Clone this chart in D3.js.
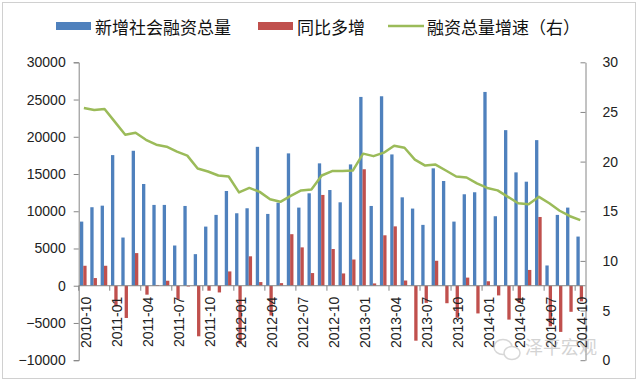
<!DOCTYPE html>
<html><head><meta charset="utf-8">
<script src="https://cdn.jsdelivr.net/npm/d3@7/dist/d3.min.js"></script>
<style>
html,body{margin:0;padding:0;background:#fff;}
svg{display:block;}
</style></head>
<body><svg id="c" width="640" height="383"></svg>
<script>
const months = ["2010-10","2010-11","2010-12","2011-01","2011-02","2011-03","2011-04","2011-05","2011-06","2011-07","2011-08","2011-09",
"2011-10","2011-11","2011-12","2012-01","2012-02","2012-03","2012-04","2012-05","2012-06","2012-07","2012-08","2012-09",
"2012-10","2012-11","2012-12","2013-01","2013-02","2013-03","2013-04","2013-05","2013-06","2013-07","2013-08","2013-09",
"2013-10","2013-11","2013-12","2014-01","2014-02","2014-03","2014-04","2014-05","2014-06","2014-07","2014-08","2014-09","2014-10"];
const newTSF = [8610,10540,10750,17540,6470,18120,13660,10850,10850,5400,10710,4240,
7940,9510,12720,9730,10400,18650,9640,11150,17770,10490,12410,16430,
12850,11200,16290,25350,10710,25440,17630,11870,10360,8170,15760,14060,
8610,12280,12550,26020,9330,20890,15220,13970,19550,2720,9510,10490,6600];
const yoyMore = [2680,1030,2680,-2770,-4330,4380,-1200,100,670,-1870,-100,-6790,
-670,-900,1920,-7800,3950,490,-4000,350,6920,5150,1700,12190,
4930,1650,3520,15640,310,6770,7970,700,-7380,-2300,3350,-2350,
-4300,1090,-3720,600,-1300,-4550,-2300,2120,9230,-5450,-6200,-3500,-2100];
const growth = [25.4,25.2,25.3,24.0,22.7,22.9,22.2,21.7,21.5,21.0,20.6,19.3,
19.0,18.6,18.5,16.9,17.35,16.95,16.2,15.95,16.55,17.1,17.2,18.6,
19.05,19.05,19.1,20.8,20.55,20.9,21.6,21.4,20.2,19.6,19.7,19.1,
18.5,18.4,17.8,17.35,17.1,16.45,15.8,15.7,16.45,15.8,15.05,14.5,14.1];
const leftTicks = [-10000,-5000,0,5000,10000,15000,20000,25000,30000];
const rightTicks = [0,5,10,15,20,25,30];
const seriesNames = ["新增社会融资总量","同比多增","融资总量增速（右）"];
const colors = ["#4F81BD","#C0504D","#9BBB59"];

const svg = d3.select("#c");
const L = 78.7, R = 585.5, T = 62.3, B = 360.2;
const font = "'Liberation Sans', Arial, sans-serif";
const cjk = "'Noto Sans CJK SC', sans-serif";

svg.append("rect").attr("x",2.5).attr("y",2.5).attr("width",633).attr("height",376)
  .attr("fill","#fff").attr("stroke","#d0d0d0").attr("stroke-width",1);

const x = d3.scaleBand().domain(months).range([L,R]).paddingInner(0).paddingOuter(0);
const x1 = d3.scaleBand().domain(["a","b"]).range([0,x.bandwidth()]).paddingInner(0).paddingOuter(0.56);
const yL = d3.scaleLinear().domain([-10000,30000]).range([B,T]);
const yR = d3.scaleLinear().domain([0,30]).range([B,T]);

// bars
const g = svg.append("g");
g.selectAll("rect.b").data(newTSF).join("rect").attr("class","b")
  .attr("x",(d,i)=>x(months[i])+x1("a")-0.6).attr("width",x1.bandwidth())
  .attr("y",d=>Math.min(yL(d),yL(0))).attr("height",d=>Math.abs(yL(d)-yL(0)))
  .attr("fill",colors[0]);
g.selectAll("rect.r").data(yoyMore).join("rect").attr("class","r")
  .attr("x",(d,i)=>x(months[i])+x1("b")-0.6).attr("width",x1.bandwidth())
  .attr("y",d=>Math.min(yL(d),yL(0))).attr("height",d=>Math.abs(yL(d)-yL(0)))
  .attr("fill",colors[1]);

// left axis
const axL = d3.axisLeft(yL).tickValues(leftTicks).tickSize(5).tickPadding(8).tickFormat(d3.format("d"));
const gL = svg.append("g").attr("transform",`translate(${L},0)`).call(axL);
gL.select(".domain").attr("stroke","#868686");
gL.selectAll(".tick line").attr("stroke","#868686");
gL.selectAll("text").attr("font-family",font).attr("font-size",14).attr("fill","#222");

// right axis (ticks inward)
const axR = d3.axisRight(yR).tickValues(rightTicks).tickSize(0).tickPadding(17);
const gR = svg.append("g").attr("transform",`translate(${R},0)`).call(axR);
gR.select(".domain").attr("stroke","#868686");
gR.selectAll(".tick").append("line").attr("x1",-5).attr("x2",0).attr("stroke","#868686");
gR.selectAll("text").attr("font-family",font).attr("font-size",14).attr("fill","#222");

// category axis at 0
const y0 = yL(0);
svg.append("line").attr("x1",L).attr("x2",R).attr("y1",y0).attr("y2",y0).attr("stroke","#868686");
const tickIdx = months.map((m,i)=>i).filter(i=>i%3===0);
svg.selectAll("line.ct").data(tickIdx).join("line").attr("class","ct")
  .attr("x1",i=>x(months[i])).attr("x2",i=>x(months[i]))
  .attr("y1",y0).attr("y2",y0+5).attr("stroke","#868686");
svg.selectAll("text.cl").data(tickIdx).join("text").attr("class","cl")
  .attr("transform",i=>`translate(${x(months[i])+x.bandwidth()/2+2},${y0+11}) rotate(-90)`)
  .attr("text-anchor","end").attr("dominant-baseline","central")
  .attr("font-family",font).attr("font-size",14).attr("fill","#222")
  .text(i=>months[i]);

// line
const line = d3.line().x((d,i)=>x(months[i])+x.bandwidth()/2).y(d=>yR(d));
svg.append("path").datum(growth).attr("d",line).attr("fill","none")
  .attr("stroke",colors[2]).attr("stroke-width",2.5).attr("stroke-linejoin","round");

// legend
const leg = [{x:56,t:seriesNames[0],c:colors[0],type:"rect"},
             {x:258,t:seriesNames[1],c:colors[1],type:"rect"},
             {x:388,t:seriesNames[2],c:colors[2],type:"line"}];
const ly = 26;
leg.forEach(l=>{
  if(l.type==="rect") svg.append("rect").attr("x",l.x).attr("y",ly-4).attr("width",35).attr("height",8).attr("fill",l.c);
  else svg.append("line").attr("x1",l.x).attr("x2",l.x+36).attr("y1",ly).attr("y2",ly).attr("stroke",l.c).attr("stroke-width",2.5);
  svg.append("text").attr("x",l.x+39).attr("y",ly).attr("dominant-baseline","central")
    .attr("font-family",cjk).attr("font-size",17).attr("fill","#111").text(l.t);
});

// watermark
const wm = svg.append("g").attr("opacity",0.55);
wm.append("ellipse").attr("cx",503).attr("cy",347).attr("rx",9).attr("ry",7.5).attr("fill","none").attr("stroke","#b8b8b8").attr("stroke-width",1.5);
wm.append("ellipse").attr("cx",512).attr("cy",353).attr("rx",8).attr("ry",6.5).attr("fill","#fff").attr("stroke","#b8b8b8").attr("stroke-width",1.5);
wm.append("text").attr("x",525).attr("y",346).attr("dominant-baseline","central")
  .attr("font-family",cjk).attr("font-size",18).attr("fill","#b0b0b0").text("泽平宏观");
</script></body></html>
